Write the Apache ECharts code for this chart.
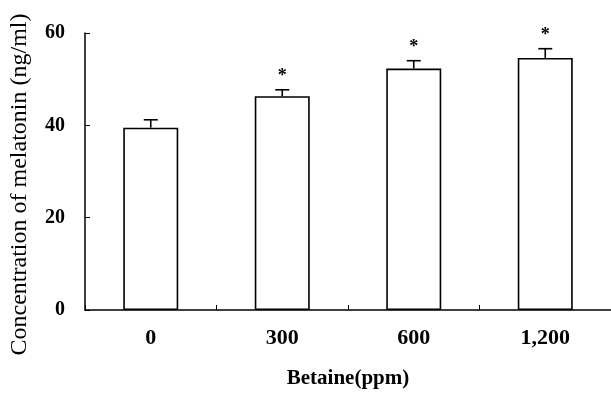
<!DOCTYPE html>
<html>
<head>
<meta charset="utf-8">
<script src="https://cdn.jsdelivr.net/npm/echarts@6/dist/echarts.min.js"></script>
<style>html,body{margin:0;padding:0;background:#fff}#c{width:611px;height:394px}</style>
</head>
<body>
<div id="c"></div>
<script>
var categories = ['0', '300', '600', '1,200'];
var means = [39.5, 46.3, 52.3, 54.6];
var errors = [1.7, 1.4, 1.7, 2.0];
var marks = ['', '*', '*', '*'];
var yTicks = [0, 20, 40, 60];

var FONT = 'Liberation Serif';
var chart = echarts.init(document.getElementById('c'), null, {renderer: 'canvas'});
var errData = categories.map(function (c, i) { return [i, means[i], means[i] + errors[i], marks[i]]; });

chart.setOption({
  animation: false,
  backgroundColor: '#fff',
  grid: {left: 84, top: 33, width: 532, height: 281, containLabel: false},
  xAxis: {
    type: 'category',
    data: categories,
    name: 'Betaine(ppm)',
    nameLocation: 'middle',
    nameGap: 58,
    nameTextStyle: {fontFamily: FONT, fontSize: 21, fontWeight: 'bold', color: '#000'},
    axisLine: {lineStyle: {color: '#000', width: 1.5}},
    axisTick: {show: true, inside: true, length: 5, lineStyle: {color: '#000', width: 1}},
    axisLabel: {fontFamily: FONT, fontSize: 22, fontWeight: 'bold', color: '#000', margin: 17}
  },
  yAxis: {
    type: 'value',
    min: yTicks[0],
    max: yTicks[yTicks.length - 1],
    interval: 20,
    name: 'Concentration of melatonin (ng/ml)',
    nameLocation: 'middle',
    nameRotate: 90,
    nameGap: 53,
    nameTextStyle: {fontFamily: FONT, fontSize: 24, color: '#000', padding: [0, 26, 0, 0]},
    splitLine: {show: false},
    axisLine: {show: true, lineStyle: {color: '#000', width: 1.5}},
    axisTick: {show: true, inside: true, length: 5, lineStyle: {color: '#000', width: 1}},
    axisLabel: {fontFamily: FONT, fontSize: 20, fontWeight: 'bold', color: '#000', margin: 20}
  },
  series: [
    {
      type: 'bar',
      data: means,
      barWidth: 55,
      itemStyle: {color: '#fff', borderColor: '#000', borderWidth: 1.6},
      z: 2
    },
    {
      type: 'custom',
      data: errData,
      z: 3,
      renderItem: function (params, api) {
        var x = api.value(0);
        var top = api.coord([x, api.value(1)]);
        var cap = api.coord([x, api.value(2)]);
        var hw = 7;
        var children = [
          {type: 'line', shape: {x1: top[0], y1: top[1], x2: cap[0], y2: cap[1]}, style: {stroke: '#000', lineWidth: 1.6}},
          {type: 'line', shape: {x1: cap[0] - hw, y1: cap[1], x2: cap[0] + hw, y2: cap[1]}, style: {stroke: '#000', lineWidth: 1.6}}
        ];
        var m = api.value(3);
        if (m) {
          children.push({type: 'text', x: cap[0], y: cap[1] - 13,
            style: {text: m, fontFamily: FONT, fontSize: 18, fontWeight: 'bold', fill: '#000', align: 'center', verticalAlign: 'middle'}});
        }
        return {type: 'group', children: children};
      }
    }
  ]
});
</script>
</body>
</html>
